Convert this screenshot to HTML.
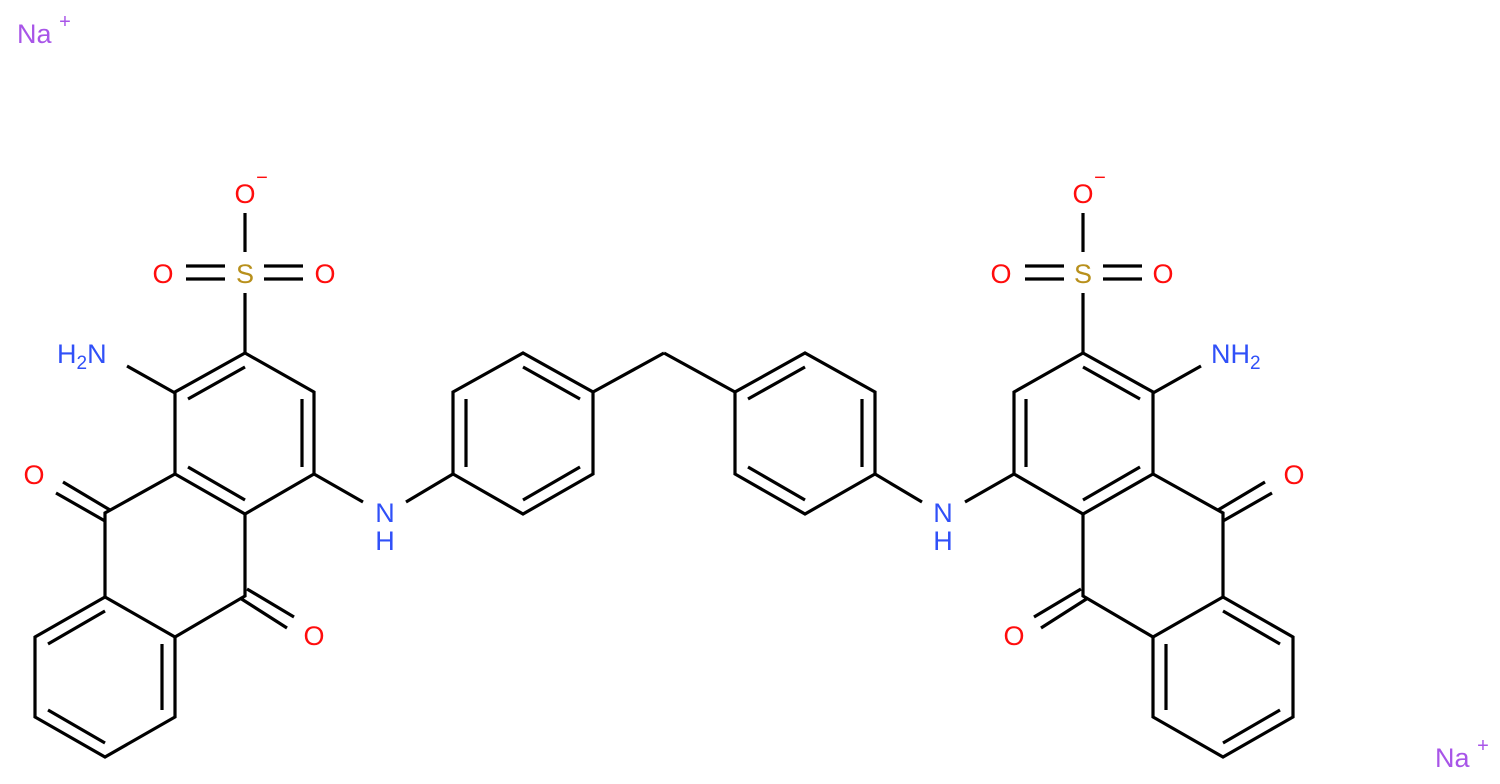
<!DOCTYPE html>
<html><head><meta charset="utf-8"><style>
html,body{margin:0;padding:0;background:#fff;}
svg{display:block;}
text{font-family:"Liberation Sans",Arial,sans-serif;}
</style></head><body>
<svg width="1500" height="784" viewBox="0 0 1500 784" xmlns="http://www.w3.org/2000/svg">
<defs>
<g id="half" stroke="#000" stroke-width="3.2" fill="none" stroke-linecap="butt">
  <line x1="245" y1="213" x2="245" y2="252"/>
  <line x1="186" y1="266" x2="225" y2="266"/>
  <line x1="186" y1="279" x2="225" y2="279"/>
  <line x1="264" y1="266" x2="303" y2="266"/>
  <line x1="264" y1="279" x2="303" y2="279"/>
  <line x1="245" y1="293" x2="245" y2="353"/>
  <polyline points="245,353 314,392 314,474 245,514 175,474 175,392 245,353"/>
  <line x1="245" y1="367" x2="188" y2="399"/>
  <line x1="302" y1="399" x2="302" y2="467"/>
  <line x1="188" y1="467" x2="245" y2="500"/>
  <line x1="175" y1="393" x2="127" y2="366"/>
  <polyline points="175,474 105,513 105,597 175,637 245,596 245,514"/>
  <line x1="63" y1="482" x2="110" y2="510"/>
  <line x1="56" y1="493" x2="105" y2="521"/>
  <line x1="247" y1="589" x2="294" y2="617"/>
  <line x1="240" y1="598" x2="287" y2="628"/>
  <polyline points="105,597 35,637 35,717 105,757 175,717 175,637"/>
  <line x1="105" y1="611" x2="48" y2="644"/>
  <line x1="162" y1="644" x2="162" y2="710"/>
  <line x1="48" y1="710" x2="105" y2="743"/>
  <line x1="314" y1="474" x2="363" y2="502"/>
  <line x1="406" y1="502" x2="453" y2="474"/>
  <polygon points="453,392 523,353 593,392 593,474 523,514 453,474"/>
  <line x1="466" y1="399" x2="466" y2="467"/>
  <line x1="523" y1="367" x2="580" y2="399"/>
  <line x1="580" y1="467" x2="523" y2="500"/>
  <line x1="593" y1="392" x2="664" y2="353"/>
</g>
</defs>
<use href="#half"/>
<use href="#half" transform="translate(1328,0) scale(-1,1)"/>

<g font-size="27" text-anchor="middle">
  <text x="245" y="203" fill="#ff0d0d">O</text>
  <text x="262" y="184" fill="#ff0d0d" font-size="20">−</text>
  <text x="163" y="283" fill="#ff0d0d">O</text>
  <text x="325" y="283" fill="#ff0d0d">O</text>
  <text x="245" y="283" fill="#b8901c">S</text>
  <text x="34" y="484" fill="#ff0d0d">O</text>
  <text x="314" y="645" fill="#ff0d0d">O</text>
  <text x="385" y="522" fill="#3050f8">N</text>
  <text x="385" y="550" fill="#3050f8">H</text>
  <text x="57" y="363" fill="#3050f8" text-anchor="start">H<tspan font-size="19" dy="6">2</tspan><tspan dy="-6">N</tspan></text>

  <text x="1083" y="203" fill="#ff0d0d">O</text>
  <text x="1100" y="184" fill="#ff0d0d" font-size="20">−</text>
  <text x="1001" y="283" fill="#ff0d0d">O</text>
  <text x="1163" y="283" fill="#ff0d0d">O</text>
  <text x="1083" y="283" fill="#b8901c">S</text>
  <text x="1294" y="484" fill="#ff0d0d">O</text>
  <text x="1014" y="645" fill="#ff0d0d">O</text>
  <text x="943" y="522" fill="#3050f8">N</text>
  <text x="943" y="550" fill="#3050f8">H</text>
  <text x="1211" y="363" fill="#3050f8" text-anchor="start">NH<tspan font-size="19" dy="6">2</tspan></text>

  <text x="17" y="43" fill="#a855e8" text-anchor="start">Na</text>
  <text x="65" y="28" fill="#a855e8" font-size="20">+</text>
  <text x="1435" y="767" fill="#a855e8" text-anchor="start">Na</text>
  <text x="1483" y="752" fill="#a855e8" font-size="20">+</text>
</g>
</svg>
</body></html>
